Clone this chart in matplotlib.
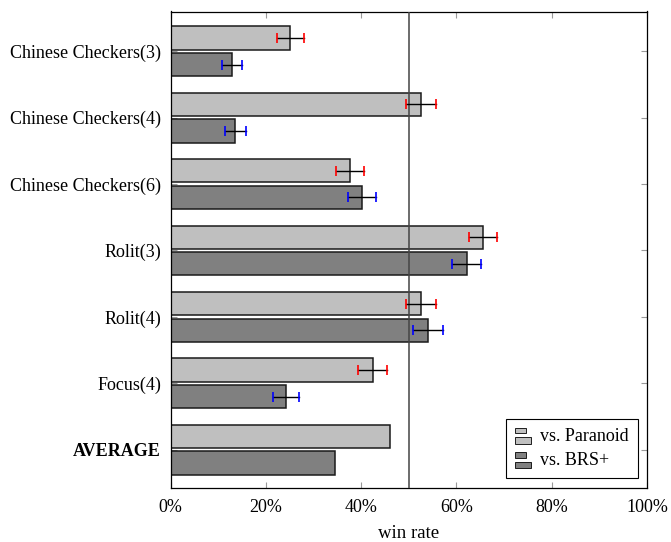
import matplotlib
matplotlib.use("Agg")
import matplotlib.pyplot as plt
from matplotlib.patches import Rectangle
from matplotlib.legend_handler import HandlerBase
from matplotlib.ticker import FuncFormatter

plt.rcParams['font.family'] = ['Liberation Serif', 'DejaVu Serif']

categories = ["Chinese Checkers(3)", "Chinese Checkers(4)", "Chinese Checkers(6)",
              "Rolit(3)", "Rolit(4)", "Focus(4)", "AVERAGE"]
paranoid = [25.1, 52.5, 37.7, 65.6, 52.6, 42.4, 46.0]
paranoid_err = [2.8, 3.15, 2.95, 2.95, 3.1, 3.1, None]
brs = [12.9, 13.6, 40.2, 62.2, 54.0, 24.2, 34.5]
brs_err = [2.1, 2.15, 3.0, 3.05, 3.2, 2.7, None]
series_labels = ["vs. Paranoid", "vs. BRS+"]
xticks = [0, 20, 40, 60, 80, 100]

fig = plt.figure(figsize=(6.71, 5.42), dpi=100)
ax = fig.add_axes([170.7/671, 54.5/542, 476.3/671, 476/542])

y = list(range(len(categories)))
off = 0.2
h = 0.35
c1, c2 = '#bfbfbf', '#808080'
b1 = ax.barh([v - off for v in y], paranoid, height=h, color=c1, edgecolor='#1a1a1a', linewidth=1.1, zorder=2)
b2 = ax.barh([v + off for v in y], brs, height=h, color=c2, edgecolor='#1a1a1a', linewidth=1.1, zorder=2)

def draw_err(vals, errs, ypos, capc):
    for v, e, yy in zip(vals, errs, ypos):
        if e is None:
            continue
        ax.plot([v - e, v + e], [yy, yy], color='black', lw=1.0, zorder=4)
        ax.plot([v - e, v + e], [yy, yy], linestyle='none', marker='|', markersize=7,
                markeredgewidth=1.2, color=capc, zorder=5)

draw_err(paranoid, paranoid_err, [v - off for v in y], 'red')
draw_err(brs, brs_err, [v + off for v in y], 'blue')

ax.axvline(50, color='#444444', lw=1.1, zorder=3)

ax.set_xlim(0, 100)
ax.set_ylim(6.57, -0.6)
ax.set_xticks(xticks)
ax.xaxis.set_major_formatter(FuncFormatter(lambda v, p: f"{int(v)}%"))
ax.set_yticks(y)
ax.set_yticklabels(categories)
for lbl in ax.get_yticklabels():
    if lbl.get_text() == "AVERAGE":
        lbl.set_fontweight('bold')
ax.tick_params(axis='both', direction='in', top=True, right=True, length=4,
               color='#999999', labelsize=13)
ax.tick_params(axis='x', pad=8)
ax.tick_params(axis='y', pad=7)
ax.set_xlabel("win rate", fontsize=13.5, labelpad=7)
for s in ax.spines.values():
    s.set_linewidth(0.9)

class TwoRect(HandlerBase):
    def __init__(self, color):
        super().__init__()
        self.color = color
    def create_artists(self, legend, orig_handle, xdescent, ydescent, width, height, fontsize, trans):
        r1 = Rectangle((0, height * 0.62), width * 0.6, height * 0.45,
                       facecolor=self.color, edgecolor='black', lw=0.6, transform=trans)
        r2 = Rectangle((0, -height * 0.2), width * 0.9, height * 0.5,
                       facecolor=self.color, edgecolor='black', lw=0.6, transform=trans)
        return [r1, r2]

leg = ax.legend([b1, b2], series_labels, loc='lower right', fontsize=13,
                handler_map={b1: TwoRect(c1), b2: TwoRect(c2)},
                handlelength=1.0, handletextpad=0.4, borderpad=0.5, labelspacing=0.4,
                fancybox=False, edgecolor='black', framealpha=1.0)
leg.get_frame().set_linewidth(0.8)

fig.savefig("out.png", dpi=100)
